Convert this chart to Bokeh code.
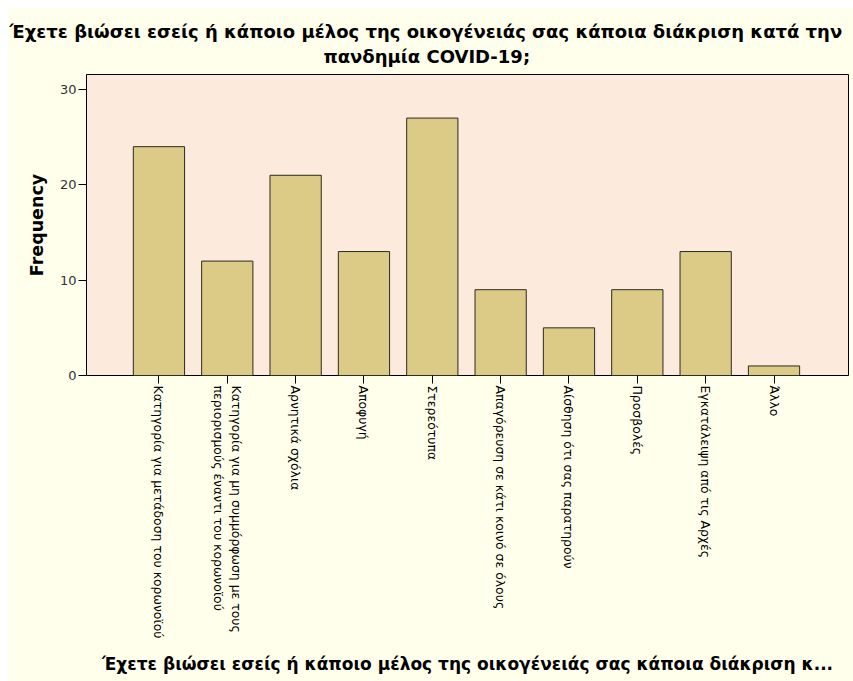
import math
from bokeh.plotting import figure
from bokeh.models import Range1d, FixedTicker, Title
from bokeh.embed import file_html
from bokeh.resources import INLINE

categories = [
    "Κατηγορία για μετάδοση του κορωνοϊού",
    "Κατηγορία για μη συμμόρφωση με τους\nπεριορισμούς έναντι του κορωνοϊού",
    "Αρνητικά σχόλια",
    "Αποφυγή",
    "Στερεότυπα",
    "Απαγόρευση σε κάτι κοινό σε όλους",
    "Αίσθηση ότι σας παρατηρούν",
    "Προσβολές",
    "Εγκατάλειψη από τις Αρχές",
    "Άλλο",
]
frequencies = [24, 12, 21, 13, 27, 9, 5, 9, 13, 1]
y_ticks = [0, 10, 20, 30]
title_lines = [
    "Έχετε βιώσει εσείς ή κάποιο μέλος της οικογένειάς σας κάποια διάκριση κατά την",
    "πανδημία COVID-19;",
]
x_title = "Έχετε βιώσει εσείς ή κάποιο μέλος της οικογένειάς σας κάποια διάκριση κ..."
y_title = "Frequency"

FONT = "DejaVu Sans"
xs = list(range(len(categories)))

p = figure(width=845, height=673, output_backend="svg", toolbar_location=None,
           x_range=Range1d(-1.06, 10.09), y_range=Range1d(0, 31.57),
           min_border_left=78, min_border_right=5, min_border_top=66,
           min_border_bottom=306)
p.margin = (8, 0, 0, 8)

p.background_fill_color = "#FCEBDC"
p.border_fill_color = "#FFFFEC"
p.outline_line_color = "black"
p.outline_line_width = 1
p.grid.visible = False

p.vbar(x=xs, top=frequencies, width=0.75, bottom=0,
       fill_color="#DCCB87", line_color="#2a2a20", line_width=1)

# x axis
xa = p.xaxis[0]
xa.ticker = FixedTicker(ticks=xs)
xa.major_label_overrides = {i: c for i, c in enumerate(categories)}
xa.major_label_orientation = -math.pi / 2
xa.major_label_text_font = FONT
xa.major_label_text_font_size = "12.45px"
xa.major_label_text_color = "black"
xa.major_tick_out = 8
xa.major_tick_in = 0
xa.minor_tick_line_color = None
xa.axis_line_color = None
xa.major_tick_line_color = "black"
xa.major_label_standoff = 2
xa.axis_label = x_title
xa.axis_label_text_font = FONT
xa.axis_label_text_font_style = "bold"
xa.axis_label_text_font_size = "17px"
xa.axis_label_text_color = "black"
xa.axis_label_standoff = 12

# y axis
ya = p.yaxis[0]
ya.ticker = FixedTicker(ticks=y_ticks)
ya.major_label_text_font = FONT
ya.major_label_text_font_size = "13px"
ya.major_label_text_color = "#333333"
ya.major_tick_out = 8
ya.major_tick_in = 0
ya.minor_tick_line_color = None
ya.axis_line_color = None
ya.major_tick_line_color = "black"
ya.major_label_standoff = 2
ya.axis_label = y_title
ya.axis_label_text_font = FONT
ya.axis_label_text_font_style = "bold"
ya.axis_label_text_font_size = "17.5px"
ya.axis_label_text_color = "black"
ya.axis_label_standoff = 10

# title lines: second line is nearest the frame, first line above it
offsets = [-77, 237]
standoffs = [-11, 15]
for i in (1, 0):
    t = Title(text=title_lines[i], align="left", offset=offsets[i],
              standoff=standoffs[i], text_font=FONT, text_font_style="bold",
              text_font_size="18px", text_color="black")
    p.add_layout(t, "above")

open("out.html", "w").write(file_html(p, INLINE))
